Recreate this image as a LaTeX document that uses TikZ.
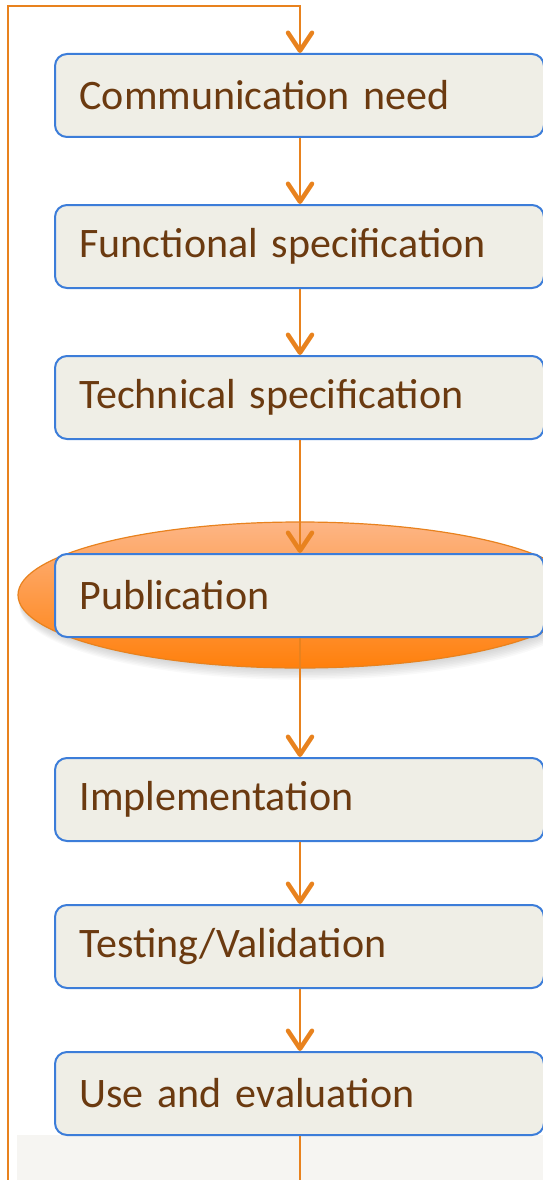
\documentclass[tikz,border=0pt]{standalone}
\usepackage{fontspec}
\setmainfont{Carlito}
\usetikzlibrary{arrows.meta,shapes.geometric}
\definecolor{lineor}{HTML}{E8821E}
\definecolor{boxblue}{HTML}{3C7DD9}
\definecolor{boxfill}{HTML}{EFEEE6}
\definecolor{txt}{HTML}{6B3A10}
\definecolor{ellTop}{HTML}{FDB585}
\definecolor{ellBot}{HTML}{FF800C}
\definecolor{bottomgray}{HTML}{F6F5F2}
\tikzset{
  stepbox/.style={draw=boxblue, line width=2pt, fill=boxfill, rounded corners=12pt,
    minimum width=489pt, minimum height=83pt, anchor=north west, text width=440pt,
    inner xsep=24pt, align=left, font=\fontsize{42}{46}\selectfont, text=txt},
  flow/.style={draw=lineor, line width=1.6pt},
  tip/.style={-{Straight Barb[length=18pt,width=24pt,line width=4.5pt,round]}},
}
\begin{document}
\begin{tikzpicture}[x=1pt,y=-1pt]
\useasboundingbox (0,0) rectangle (543,1180);
\begin{scope}
\clip (0,0) rectangle (543,1180);
\fill[bottomgray] (17,1135) rectangle (543,1180);
% ellipse shadow
\foreach \i in {1,...,8}{
  \fill[black,opacity=0.025] (300+\i*0.5,597+\i) ellipse [x radius=280+\i*0.6, y radius=70+\i*0.6];
}
\shade[top color=ellTop, bottom color=ellBot, draw=lineor, line width=1.2pt]
  (300,595) ellipse [x radius=282, y radius=73];
\node[stepbox] (comm) at (54,53) {Communication need};
\node[stepbox] (func) at (54,204) {Functional specification};
\node[stepbox] (tech) at (54,355) {Technical specification};
\node[stepbox] (pub)  at (54,553) {Publication};
\node[stepbox] (impl) at (54,757) {Implementation};
\node[stepbox] (test) at (54,904) {Testing/Validation};
\node[stepbox] (use)  at (54,1051) {Use and evaluation};
\coordinate (c1) at (300,53);
\coordinate (c1t) at (300,6);
\coordinate (lt) at (8,6);
\coordinate (lb) at (8,1185);
\coordinate (ub) at (300,1185);
\draw[flow,tip] (lb) -- (lt) -- (c1t) -- (c1);
\draw[flow] (use.south -| c1) -- (ub);
\foreach \a/\b in {comm/func,func/tech,tech/pub,pub/impl,impl/test,test/use}{
  \draw[flow,tip] (\a.south -| c1) -- (\b.north -| c1);
}
\end{scope}
\end{tikzpicture}
\end{document}
